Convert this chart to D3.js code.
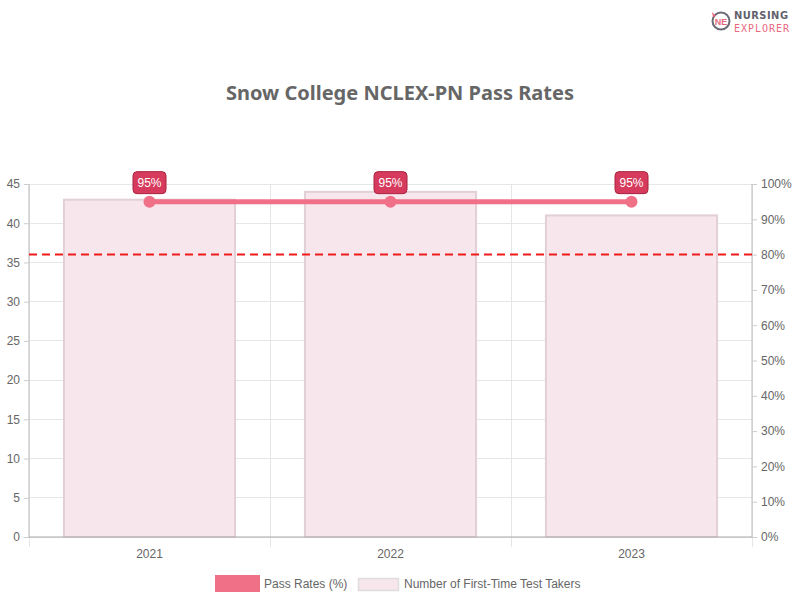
<!DOCTYPE html>
<html><head><meta charset="utf-8">
<script src="https://cdn.jsdelivr.net/npm/d3@7"></script>
<style>body{margin:0;background:#fff}svg{display:block}</style>
</head><body><svg id="c" width="800" height="600"></svg>
<script>
const years = ["2021","2022","2023"];
const passRates = [95,95,95];
const testTakers = [43,44,41];
const leftTicks = [0,5,10,15,20,25,30,35,40,45];
const rightTicks = [0,10,20,30,40,50,60,70,80,90,100];
const benchmark = 80;

const svg = d3.select("#c");
const L=29,R=752,T=184,B=537;
const font="'Liberation Sans', Arial, sans-serif";
const x = d3.scaleBand().domain(years).range([L,R]).paddingInner(0).paddingOuter(0);
const yL = d3.scaleLinear().domain([0,45]).range([B,T]);
const yR = d3.scaleLinear().domain([0,100]).range([B,T]);

// title
svg.append("text").attr("x",400).attr("y",100).attr("text-anchor","middle")
  .attr("font-family","'Noto Sans', sans-serif").attr("font-weight","bold").attr("font-size",20)
  .attr("fill","#666").text("Snow College NCLEX-PN Pass Rates");

// logo
const lg = svg.append("g");
lg.append("circle").attr("cx",721).attr("cy",21).attr("r",8.5).attr("fill","none").attr("stroke","#6b6b78").attr("stroke-width",2);
lg.append("text").attr("x",721).attr("y",24.5).attr("text-anchor","middle").attr("font-family",font).attr("font-weight","bold").attr("font-size",9).attr("fill","#e8697f").text("NE");
lg.append("path").attr("d","M712,12 L716,16 L713,17 Z").attr("fill","#e8697f");
lg.append("text").attr("x",734).attr("y",19).attr("font-family","'DejaVu Sans Condensed', 'DejaVu Sans', sans-serif").attr("font-weight","bold").attr("font-size",11).attr("fill","#5f5f6e").attr("textLength",54).text("NURSING");
lg.append("text").attr("x",734).attr("y",31.5).attr("font-family","'DejaVu Sans Mono', monospace").attr("font-size",10).attr("fill","#e8697f").attr("textLength",55).text("EXPLORER");

// grid
const g = svg.append("g");
g.selectAll(".hg").data(leftTicks).join("line")
  .attr("x1",L).attr("x2",R).attr("y1",d=>yL(d)).attr("y2",d=>yL(d))
  .attr("stroke","#e6e6e6").attr("stroke-width",1).attr("shape-rendering","crispEdges");
const vlines = [L, ...years.map(d=>x(d)+x.bandwidth())];
g.selectAll(".vg").data(vlines).join("line")
  .attr("x1",d=>d).attr("x2",d=>d).attr("y1",T).attr("y2",B+10)
  .attr("stroke","#e6e6e6").attr("shape-rendering","crispEdges");

// bars
const bw = x.bandwidth()*0.71;
svg.append("g").selectAll("rect").data(testTakers).join("rect")
  .attr("x",(d,i)=>x(years[i])+x.bandwidth()/2-bw/2).attr("width",bw)
  .attr("y",d=>yL(d)).attr("height",d=>B-yL(d))
  .attr("fill","#f7e6ec").attr("stroke","#e3d0d7").attr("stroke-width",2);

// axes
const axL = svg.append("g").attr("transform",`translate(${L},0)`)
  .call(d3.axisLeft(yL).tickValues(leftTicks).tickSize(5).tickPadding(4));
const axR = svg.append("g").attr("transform",`translate(${R},0)`)
  .call(d3.axisRight(yR).tickValues(rightTicks).tickSize(5).tickPadding(4).tickFormat(d=>d+"%"));
const axB = svg.append("g").attr("transform",`translate(0,${B})`)
  .call(d3.axisBottom(x).tickSize(0).tickPadding(12));
[axL,axR,axB].forEach(a=>{
  a.selectAll("text").attr("font-family",font).attr("font-size",12).attr("fill","#666");
  a.selectAll("line").attr("stroke","#ccc");
  a.select(".domain").attr("stroke","#bbb");
});
axL.select(".domain").attr("d",`M0,${T}V${B}`);
axR.select(".domain").attr("d",`M0,${T}V${B}`);
axB.select(".domain").attr("d",`M${L},0H${R}`).attr("stroke","#aaa");

// benchmark dashed
svg.append("line").attr("x1",L).attr("x2",R).attr("y1",yR(benchmark)).attr("y2",yR(benchmark))
  .attr("stroke","#f01a1a").attr("stroke-width",2).attr("stroke-dasharray","8,5");

// line
const cx = d=>x(d)+x.bandwidth()/2;
svg.append("path").datum(passRates)
  .attr("d",d3.line().x((d,i)=>cx(years[i])).y(d=>yR(d)))
  .attr("fill","none").attr("stroke","#f07087").attr("stroke-width",5);
svg.append("g").selectAll("circle").data(passRates).join("circle")
  .attr("cx",(d,i)=>cx(years[i])).attr("cy",d=>yR(d)).attr("r",6).attr("fill","#f07087");

// labels
const lab = svg.append("g").selectAll("g").data(passRates).join("g")
  .attr("transform",(d,i)=>`translate(${cx(years[i])},${yR(d)-19})`);
lab.append("rect").attr("x",-16.5).attr("y",-11).attr("width",33).attr("height",22).attr("rx",4)
  .attr("fill","#d63a5c").attr("stroke","#a8243f").attr("stroke-width",1);
lab.append("text").attr("text-anchor","middle").attr("y",4.5).attr("font-family",font).attr("font-size",12)
  .attr("fill","#fff").text(d=>d+"%");

// legend
const leg = svg.append("g");
leg.append("rect").attr("x",215).attr("y",575).attr("width",45).attr("height",17).attr("fill","#f07087");
leg.append("text").attr("x",264).attr("y",588).attr("font-family",font).attr("font-size",12).attr("fill","#666").text("Pass Rates (%)");
leg.append("rect").attr("x",358.5).attr("y",578.5).attr("width",40).attr("height",12).attr("fill","#f7e6ec").attr("stroke","#ddd").attr("stroke-width",1.5);
leg.append("text").attr("x",404).attr("y",588).attr("font-family",font).attr("font-size",12).attr("fill","#666").text("Number of First-Time Test Takers");
</script></body></html>
